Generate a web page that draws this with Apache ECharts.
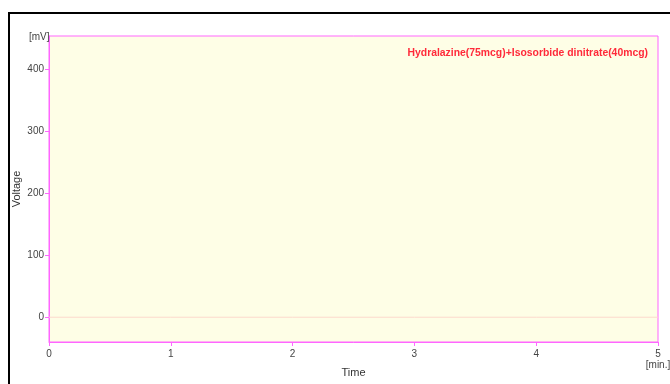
<!DOCTYPE html>
<html>
<head>
<meta charset="utf-8">
<script src="https://cdn.jsdelivr.net/npm/echarts@6/dist/echarts.min.js"></script>
<style>
  html, body { margin: 0; padding: 0; background: #fff; overflow: hidden; }
  #frame { position: absolute; left: 8px; top: 12px; width: 662px; height: 372px;
           border-top: 2px solid #000; border-left: 2px solid #000; box-sizing: border-box; }
  #chart { position: absolute; left: 0; top: 0; width: 670px; height: 384px; }
</style>
</head>
<body>
<div id="frame"></div>
<div id="chart"></div>
<script>
// Chromatogram trace: detector signal over run time
const timeMin = [0, 1, 2, 3, 4, 5];
const voltageMv = [0, 0, 0, 0, 0, 0];
const yTicks = [0, 100, 200, 300, 400];
const xTicks = [0, 1, 2, 3, 4, 5];
const sampleName = 'Hydralazine(75mcg)+Isosorbide dinitrate(40mcg)';

const FONT = '"Liberation Sans", Arial, sans-serif';
const PINK = '#ff66ff';

const chart = echarts.init(document.getElementById('chart'), null, { renderer: 'canvas' });
chart.setOption({
  animation: false,
  backgroundColor: 'transparent',
  title: [
    {
      text: sampleName, right: 17, top: 43,
      textStyle: { color: '#ff2a3a', fontWeight: 'bold', fontSize: 10.4, fontFamily: FONT }
    },
    {
      text: '[mV]', left: 24, top: 27,
      textStyle: { color: '#444', fontWeight: 'normal', fontSize: 10, fontFamily: FONT }
    }
  ],
  grid: {
    left: 49, right: 12, top: 36, bottom: 42,
    containLabel: false, outerBoundsMode: 'none',
    show: true, backgroundColor: '#fefee6', borderColor: PINK, borderWidth: 1
  },
  xAxis: {
    type: 'value', min: 0, max: 5, interval: 1,
    name: 'Time', nameLocation: 'middle', nameGap: 25, nameMoveOverlap: false,
    nameTextStyle: { color: '#333', fontSize: 11, fontFamily: FONT },
    axisLine: { show: true, onZero: false, lineStyle: { color: PINK, width: 1 } },
    axisTick: { show: true, length: 4, lineStyle: { color: PINK }, customValues: xTicks },
    axisLabel: {
      color: '#444', fontSize: 10, fontFamily: FONT, margin: 7, lineHeight: 11,
      customValues: xTicks,
      formatter: v => v === 5 ? '5\n[min.]' : String(v)
    },
    splitLine: { show: false }
  },
  yAxis: {
    type: 'value', min: -40, max: 454,
    name: 'Voltage', nameLocation: 'middle', nameGap: 27, nameMoveOverlap: false,
    nameTextStyle: { color: '#333', fontSize: 11, fontFamily: FONT },
    axisLine: { show: true, onZero: false, lineStyle: { color: PINK, width: 1 } },
    axisTick: { show: true, length: 4, lineStyle: { color: PINK }, customValues: yTicks },
    axisLabel: { color: '#444', fontSize: 10, fontFamily: FONT, margin: 5, customValues: yTicks },
    splitLine: { show: false }
  },
  series: [{
    type: 'line',
    data: timeMin.map((t, i) => [t, voltageMv[i]]),
    showSymbol: false,
    lineStyle: { color: '#fcd9cc', width: 1 }
  }]
});
</script>
</body>
</html>
